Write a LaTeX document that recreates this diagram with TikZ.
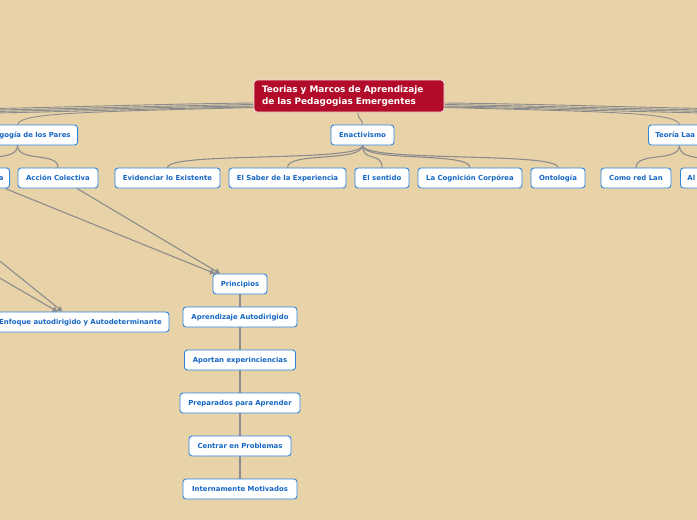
\documentclass[tikz,border=0pt]{standalone}
\usepackage{fontspec}
\setmainfont{DejaVu Sans}
\usetikzlibrary{arrows.meta,calc,backgrounds}
\definecolor{bgc}{HTML}{E8D3A9}
\definecolor{nodeblue}{HTML}{2F86DE}
\definecolor{textblue}{HTML}{1666C5}
\definecolor{rootred}{HTML}{B30C2A}
\definecolor{conngray}{HTML}{8C8C8C}
\tikzset{
  topic/.style={draw=nodeblue, line width=0.9pt, fill=white, rounded corners=3pt,
    text=textblue, font=\fontsize{6.9}{8}\selectfont\bfseries,
    minimum height=20pt, inner xsep=0pt, inner ysep=0pt, text height=5pt, text depth=0pt},
  rootbox/.style={draw=white!85!rootred, line width=0.9pt, fill=rootred, rounded corners=3pt,
    text=white, font=\fontsize{8.9}{11.5}\selectfont\bfseries,
    minimum height=32pt, text width=174pt, align=left, inner xsep=8pt, inner ysep=0pt},
  conn/.style={draw=conngray, line width=1.1pt},
  thinconn/.style={draw=conngray, line width=0.9pt},
  arr/.style={draw=conngray, line width=1.1pt, -{Triangle[width=5.5pt,length=5pt]}},
}
\newcommand{\tconn}[2]{\draw[conn] (#1.south) .. controls +(0,17) and +(0,-16) .. (#2.north);}
\begin{document}
\begin{tikzpicture}[x=1pt,y=-1pt]
\useasboundingbox (0,0) rectangle (697,520);
\begin{scope}[on background layer]
\fill[bgc] (0,0) rectangle (697,520);
\end{scope}
\clip (0,0) rectangle (697,520);

% root
\node[rootbox, minimum width=190pt] (root) at (349,96) {Teorias y Marcos de Aprendizaje\\de las Pedagogias Emergentes};

% level 1
\node[topic, anchor=east, text width=106pt, align=right, inner xsep=7pt] (ped) at (78,135) {gogía de los Pares};
\node[topic, minimum width=63pt] (enact) at (362.5,135) {Enactivismo};
\node[topic, anchor=west, text width=48pt, align=left, inner xsep=7pt] (teoria) at (648,135) {Teoría Laa};

% off-image ends
\coordinate (oL1) at (-40,109);
\coordinate (oL2) at (-40,110.5);
\coordinate (oL3) at (-40,112);
\coordinate (oL4) at (-40,113.5);
\coordinate (oR1) at (740,109);
\coordinate (oR2) at (740,110.5);
\coordinate (oR3) at (740,112);
\coordinate (oR4) at (740,113.5);
\coordinate (oA1) at (-40,229);
\coordinate (oA2) at (-40,255);

% level 2
\node[topic, anchor=east, text width=50pt, align=right, inner xsep=6pt] (lefta) at (10,178) {a};
\node[topic, minimum width=80pt] (accion) at (58,178) {Acción Colectiva};
\node[topic, minimum width=105pt] (evid) at (167.5,178) {Evidenciar lo Existente};
\node[topic, minimum width=117pt] (saber) at (287.5,178) {El Saber de la Experiencia};
\node[topic, minimum width=54pt] (sentido) at (382,178) {El sentido};
\node[topic, minimum width=104pt] (cogn) at (470,178) {La Cognición Corpórea};
\node[topic, minimum width=54pt] (onto) at (558,178) {Ontología};
\node[topic, minimum width=70pt] (como) at (636,178) {Como red Lan};
\node[topic, anchor=west, text width=40pt, align=left, inner xsep=7pt] (al) at (680,178) {Al};

% principles chain
\node[topic, minimum width=54pt] (princ) at (240,284) {Principios};
\node[topic, minimum width=177pt] (enfoque) at (80.5,322) {Enfoque autodirigido y Autodeterminante};
\node[topic, minimum width=114pt] (aprend) at (240,317) {Aprendizaje Autodirigido};
\node[topic, minimum width=111pt] (aportan) at (240,360) {Aportan experinciencias};
\node[topic, minimum width=120pt] (prep) at (240,403) {Preparados para Aprender};
\node[topic, minimum width=102pt] (centrar) at (240,446) {Centrar en Problemas};
\node[topic, minimum width=114pt] (intern) at (240,489) {Internamente Motivados};

\begin{scope}[on background layer]
% root bundles
\draw[thinconn] ([yshift=-7pt]root.west) .. controls (150,104) and (50,108) .. (oL1);
\draw[thinconn] ([yshift=-8.5pt]root.west) .. controls (150,106) and (50,109.5) .. (oL2);
\draw[thinconn] ([yshift=-10pt]root.west) .. controls (150,107) and (50,111) .. (oL3);
\draw[thinconn] ([yshift=-11pt]root.west) .. controls (150,108.5) and (50,112.5) .. (oL4);
\draw[thinconn] ([yshift=-11.5pt]root.west) .. controls (80,112) and (20,113) .. (ped.north);
\draw[thinconn] ([yshift=-7pt]root.east) .. controls (550,104) and (650,108) .. (oR1);
\draw[thinconn] ([yshift=-8.5pt]root.east) .. controls (550,106) and (650,109.5) .. (oR2);
\draw[thinconn] ([yshift=-10pt]root.east) .. controls (550,107) and (650,111) .. (oR3);
\draw[thinconn] ([yshift=-11pt]root.east) .. controls (550,108.5) and (650,112.5) .. (oR4);
\draw[thinconn] ([yshift=-11.5pt]root.east) .. controls (620,112) and (676,113) .. (teoria.north);
\draw[thinconn] ([xshift=9pt]root.south) .. controls +(0,8) and +(0,-6) .. (enact.north);

% tree connectors
\tconn{ped}{lefta}
\tconn{ped}{accion}
\tconn{enact}{evid}
\tconn{enact}{saber}
\tconn{enact}{sentido}
\tconn{enact}{cogn}
\tconn{enact}{onto}
\tconn{teoria}{como}
\tconn{teoria}{al}

% chain
\draw[conn] (princ.south) -- (aprend.north);
\draw[conn] (aprend.south) -- (aportan.north);
\draw[conn] (aportan.south) -- (prep.north);
\draw[conn] (prep.south) -- (centrar.north);
\draw[conn] (centrar.south) -- (intern.north);

% arrows
\draw[arr] ([xshift=-5pt]lefta.south east) -- ([xshift=-25pt]princ.north);
\draw[arr] ([xshift=19pt]accion.south) -- ([xshift=-20pt]princ.north);
\draw[arr] (oA1) -- ([xshift=-18pt]enfoque.north);
\draw[arr] (oA2) -- ([xshift=-23pt]enfoque.north);
\end{scope}
\end{tikzpicture}
\end{document}
